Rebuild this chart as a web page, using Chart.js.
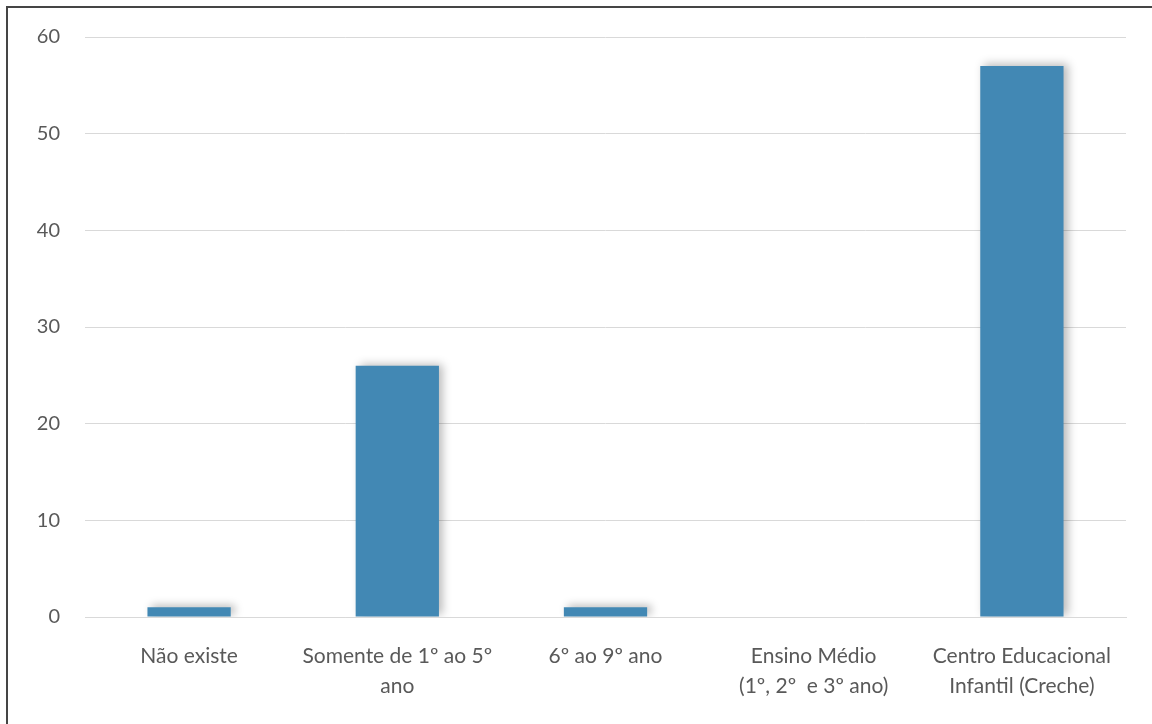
<!DOCTYPE html>
<html>
<head>
<meta charset="utf-8">
<script src="https://cdn.jsdelivr.net/npm/chart.js@4/dist/chart.umd.min.js"></script>
<style>
  html, body { margin: 0; padding: 0; background: #fff; overflow: hidden; }
  .frame { position: absolute; left: 6px; top: 6px; width: 1160px; height: 740px; border: 2px solid #454545; }
  .wrap { position: absolute; left: 0; top: 0; width: 1152px; height: 724px; }
</style>
</head>
<body>
<div class="frame"></div>
<div class="wrap"><canvas id="myChart" width="1152" height="724"></canvas></div>
<script>
// categorias e valores
const categories = [
  "Não existe",
  ["Somente de 1º ao 5º", "ano"],
  "6º ao 9º ano",
  ["Ensino Médio", "(1º, 2º  e 3º ano)"],
  ["Centro Educacional", "Infantil (Creche)"]
];
const values = [1, 26, 1, 0, 57];
const yTicks = [0, 10, 20, 30, 40, 50, 60];

const textColor = "#595959";

// sombra suave nas barras
const barShadow = {
  id: "barShadow",
  beforeDatasetsDraw(chart) {
    const ctx = chart.ctx;
    ctx.save();
    ctx.shadowColor = "rgba(0,0,0,0.28)";
    ctx.shadowBlur = 9;
    ctx.shadowOffsetX = 4;
    ctx.shadowOffsetY = -2;
  },
  afterDatasetsDraw(chart) {
    chart.ctx.restore();
  }
};

const ctx = document.getElementById("myChart");
new Chart(ctx, {
  type: "bar",
  data: {
    labels: categories,
    datasets: [{
      data: values,
      backgroundColor: "#4288b4",
      borderWidth: 0,
      barPercentage: 0.4,
      categoryPercentage: 1
    }]
  },
  options: {
    responsive: false,
    animation: false,
    layout: { padding: { top: 35, right: 26, left: 0, bottom: 0 } },
    plugins: { legend: { display: false }, tooltip: { enabled: false } },
    scales: {
      x: {
        grid: { display: false, drawTicks: false },
        border: { display: true, color: "#d9d9d9", width: 1 },
        ticks: {
          color: textColor,
          padding: 25,
          maxRotation: 0,
          autoSkip: false,
          font: { family: "Lato", size: 21, lineHeight: 1.4 }
        },
        afterFit: s => { s.height = 107; }
      },
      y: {
        min: 0,
        max: 60,
        afterBuildTicks: s => { s.ticks = yTicks.map(v => ({ value: v })); },
        grid: { color: "#d9d9d9", lineWidth: 1, drawTicks: false },
        border: { display: false },
        ticks: {
          color: textColor,
          padding: 25,
          font: { family: "Lato", size: 20 }
        },
        afterFit: s => { s.width = 85; }
      }
    }
  },
  plugins: [barShadow]
});
</script>
</body>
</html>
